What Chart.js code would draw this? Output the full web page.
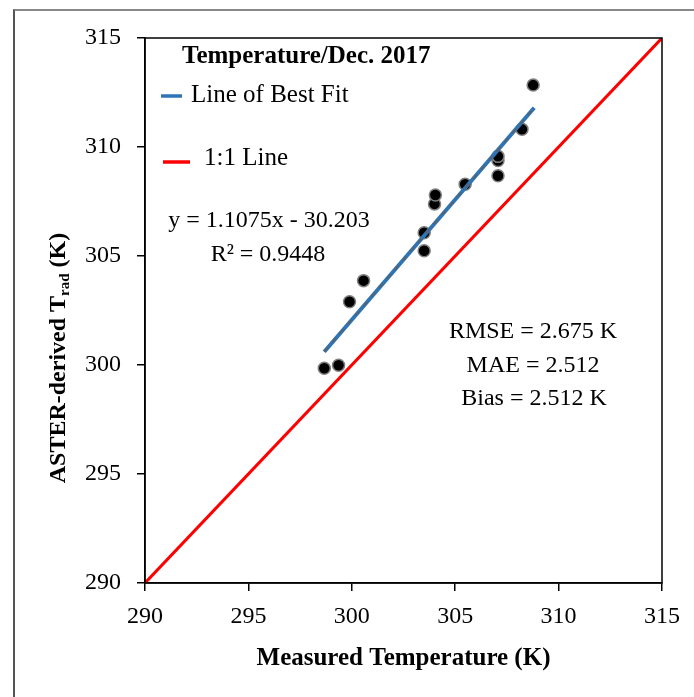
<!DOCTYPE html>
<html>
<head>
<meta charset="utf-8">
<script src="https://cdn.jsdelivr.net/npm/chart.js@4"></script>
<style>
  html, body { margin: 0; padding: 0; background: #fff; overflow: hidden; }
  #wrap { position: relative; width: 694px; height: 697px; }
  #frame { position: absolute; left: 13px; top: 9px; width: 700px; height: 700px;
           border-left: 2px solid #555; border-top: 2px solid #888; box-sizing: border-box; }
  canvas { position: absolute; left: 0; top: 0; }
</style>
</head>
<body>
<div id="wrap">
  <div id="frame"></div>
  <canvas id="c" width="694" height="697"></canvas>
</div>
<script>
// Measured vs ASTER-derived radiometric temperature, Dec. 2017
const measured = [298.67, 299.36, 299.89, 300.57, 303.50, 303.50, 304.00, 304.04,
                  305.48, 307.07, 307.07, 307.07, 308.23, 308.77];
const aster    = [299.85, 299.99, 302.90, 303.87, 305.24, 306.07, 307.39, 307.80,
                  308.29, 308.68, 309.38, 309.57, 310.81, 312.84];

// trend line end points
const fitX = [298.67, 308.82];
const fitY = [300.61, 311.80];

// 1:1 reference line
const oneX = [290, 315];
const oneY = [290, 315];

const ticks = [290, 295, 300, 305, 310, 315];

const FONT = '"Liberation Serif", "Times New Roman", serif';
const BLUE = '#2E75B6';
const RED  = '#FF0000';

const toXY = (xs, ys) => xs.map((x, i) => ({ x: x, y: ys[i] }));

// text drawn over the plot: legend, equation, error stats, y title with subscript
const overlay = {
  id: 'overlay',
  afterDraw(chart) {
    const ctx = chart.ctx;
    const a = chart.chartArea;
    ctx.save();
    ctx.fillStyle = '#000';
    ctx.textBaseline = 'middle';

    // legend
    ctx.font = 'bold 25px ' + FONT;
    ctx.textAlign = 'left';
    ctx.fillText('Temperature/Dec. 2017', a.left + 37, a.top + 19);

    ctx.lineWidth = 3.5;
    ctx.strokeStyle = BLUE;
    ctx.beginPath(); ctx.moveTo(a.left + 16, a.top + 58); ctx.lineTo(a.left + 37, a.top + 58); ctx.stroke();
    ctx.strokeStyle = RED;
    ctx.beginPath(); ctx.moveTo(a.left + 18, a.top + 124); ctx.lineTo(a.left + 45, a.top + 124); ctx.stroke();

    ctx.font = '25px ' + FONT;
    ctx.fillText('Line of Best Fit', a.left + 46, a.top + 57);
    ctx.fillText('1:1 Line', a.left + 59, a.top + 120);

    // regression equation
    ctx.font = '24px ' + FONT;
    ctx.textAlign = 'center';
    ctx.fillText('y = 1.1075x - 30.203', 269, 221);
    ctx.fillText('R\u00B2 = 0.9448', 268, 255);

    // error stats
    ctx.fillText('RMSE = 2.675 K', 533, 332);
    ctx.fillText('MAE = 2.512', 533, 366);
    ctx.fillText('Bias = 2.512 K', 534, 399);

    // y axis title with subscript
    const main = 'ASTER-derived T', sub = 'rad', tail = ' (K)';
    ctx.translate(59, 358);
    ctx.rotate(-Math.PI / 2);
    ctx.textAlign = 'left';
    ctx.font = 'bold 24px ' + FONT;
    const w1 = ctx.measureText(main).width, w3 = ctx.measureText(tail).width;
    ctx.font = 'bold 15px ' + FONT;
    const w2 = ctx.measureText(sub).width;
    let x = -(w1 + w2 + w3) / 2;
    ctx.font = 'bold 24px ' + FONT;
    ctx.fillText(main, x, 0);
    x += w1;
    ctx.font = 'bold 15px ' + FONT;
    ctx.fillText(sub, x, 6);
    x += w2;
    ctx.font = 'bold 24px ' + FONT;
    ctx.fillText(tail, x, 0);
    ctx.restore();

    // plot frame (top and right)
    ctx.save();
    ctx.strokeStyle = '#000';
    ctx.lineWidth = 1.5;
    ctx.strokeRect(a.left, a.top, a.right - a.left, a.bottom - a.top);
    ctx.restore();
  }
};

new Chart(document.getElementById('c'), {
  type: 'scatter',
  data: {
    datasets: [
      {
        label: 'trend dash',
        type: 'line',
        data: toXY(fitX, fitY),
        borderColor: '#606060',
        borderWidth: 1.5,
        borderDash: [6, 6],
        pointRadius: 0,
        fill: false
      },
      {
        label: 'Line of Best Fit',
        type: 'line',
        data: toXY(fitX, fitY),
        borderColor: BLUE,
        borderWidth: 4,
        pointRadius: 0,
        fill: false
      },
      {
        label: 'Temperature/Dec. 2017',
        data: toXY(measured, aster),
        backgroundColor: '#000',
        borderColor: '#7F7F7F',
        borderWidth: 1.5,
        pointRadius: 6
      },
      {
        label: '1:1 Line',
        type: 'line',
        data: toXY(oneX, oneY),
        borderColor: RED,
        borderWidth: 3,
        pointRadius: 0,
        fill: false
      }
    ]
  },
  options: {
    responsive: false,
    animation: false,
    devicePixelRatio: 1,
    layout: { padding: { left: 0, top: 38, right: 32, bottom: 0 } },
    plugins: { legend: { display: false }, tooltip: { enabled: false } },
    scales: {
      x: {
        type: 'linear',
        min: 290, max: 315,
        afterFit: s => { s.height = 114; },
        afterBuildTicks: s => { s.ticks = ticks.map(v => ({ value: v })); },
        grid: { display: true, drawOnChartArea: false, drawTicks: true, tickLength: 8, color: '#000', lineWidth: 1.5 },
        border: { display: true, color: '#000', width: 1.5 },
        ticks: { color: '#000', padding: 11, font: { family: FONT, size: 24 } },
        title: {
          display: true,
          text: 'Measured Temperature (K)',
          color: '#000',
          font: { family: FONT, size: 25, weight: 'bold' },
          padding: { top: 0, bottom: 23 }
        }
      },
      y: {
        type: 'linear',
        min: 290, max: 315,
        afterFit: s => { s.width = 145; },
        afterBuildTicks: s => { s.ticks = ticks.map(v => ({ value: v })); },
        grid: { display: true, drawOnChartArea: false, drawTicks: true, tickLength: 8, color: '#000', lineWidth: 1.5 },
        border: { display: true, color: '#000', width: 1.5 },
        ticks: { color: '#000', padding: 16, font: { family: FONT, size: 24 } }
      }
    }
  },
  plugins: [overlay]
});
</script>
</body>
</html>
